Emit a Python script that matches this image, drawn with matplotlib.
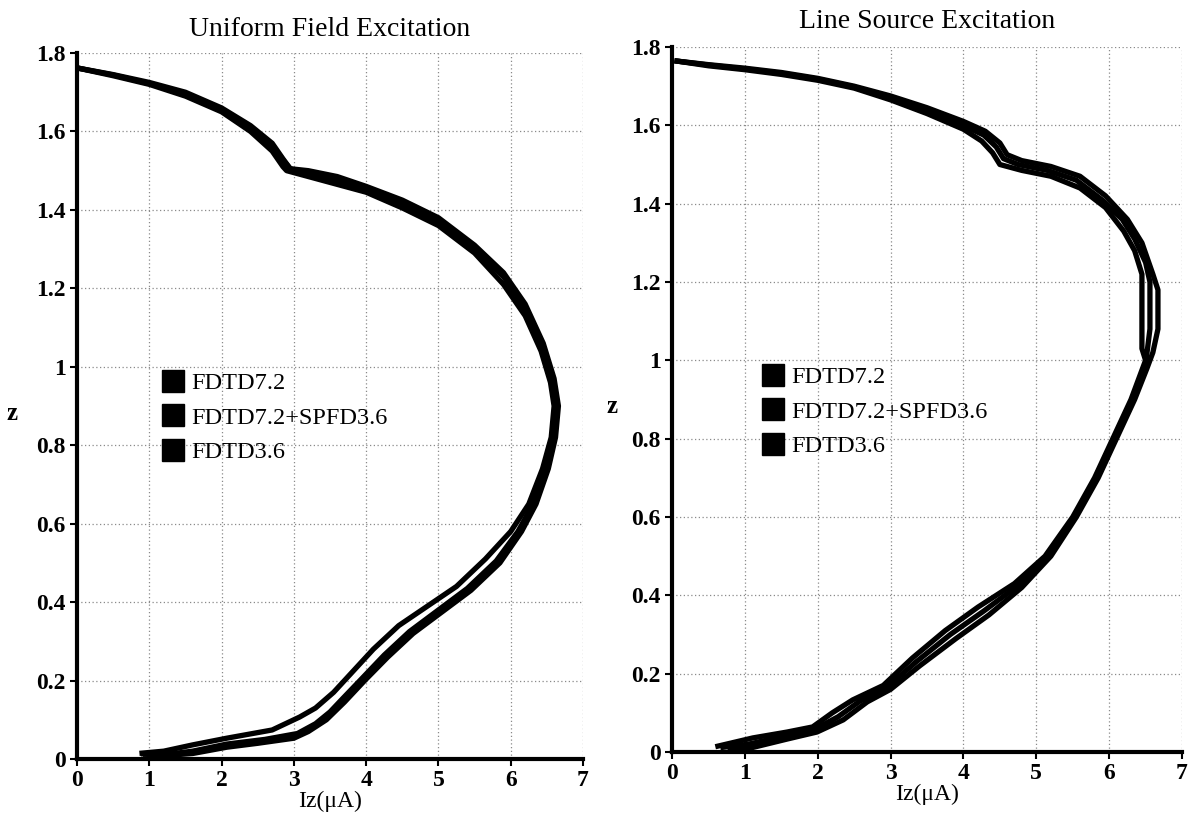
import matplotlib
matplotlib.use('Agg')
import matplotlib.pyplot as plt
from matplotlib.lines import Line2D

plt.rcParams['font.family'] = ['Liberation Serif', 'DejaVu Serif']

labels = ['FDTD7.2', 'FDTD7.2+SPFD3.6', 'FDTD3.6']
x_ticks = [0, 1, 2, 3, 4, 5, 6, 7]
y_ticks = [0, 0.2, 0.4, 0.6, 0.8, 1, 1.2, 1.4, 1.6, 1.8]
y_tick_labels = ['0', '0.2', '0.4', '0.6', '0.8', '1', '1.2', '1.4', '1.6', '1.8']

# Uniform field excitation
uf_iz_72 = [0.95, 1.3, 1.6, 2.07, 2.5, 3.0, 3.2, 3.45, 3.7, 3.98, 4.3, 4.65, 5.05, 5.45, 5.85, 6.15, 6.35,
            6.52, 6.62, 6.66, 6.6, 6.45, 6.2, 5.9, 5.5, 5.0, 4.5, 4.0, 3.6, 3.2, 2.95, 2.85, 2.7, 2.4, 2.0,
            1.5, 1.0, 0.5, 0.0]
uf_z_72 = [0.012, 0.01, 0.014, 0.03, 0.04, 0.053, 0.07, 0.1, 0.145, 0.2, 0.26, 0.32, 0.375, 0.43, 0.5, 0.58,
           0.65, 0.74, 0.82, 0.9, 0.97, 1.06, 1.16, 1.24, 1.31, 1.38, 1.425, 1.46, 1.485, 1.50, 1.505, 1.53,
           1.57, 1.615, 1.66, 1.70, 1.725, 1.745, 1.762]
uf_iz_sp = [0.92, 1.25, 1.6, 2.07, 2.6, 3.05, 3.3, 3.5, 3.68, 3.94, 4.25, 4.6, 5.0, 5.4, 5.8, 6.1, 6.31,
            6.49, 6.6, 6.64, 6.58, 6.44, 6.2, 5.9, 5.5, 5.0, 4.5, 4.0, 3.5, 3.1, 2.95, 2.86, 2.7, 2.4, 2.0,
            1.5, 1.0, 0.5, 0.0]
uf_z_sp = [0.013, 0.012, 0.02, 0.038, 0.05, 0.065, 0.09, 0.12, 0.155, 0.205, 0.265, 0.325, 0.38, 0.435,
           0.505, 0.58, 0.65, 0.74, 0.82, 0.9, 0.97, 1.055, 1.15, 1.23, 1.30, 1.37, 1.415, 1.452, 1.48,
           1.497, 1.505, 1.525, 1.565, 1.61, 1.655, 1.695, 1.722, 1.744, 1.762]
uf_iz_36 = [0.9, 1.2, 1.6, 2.07, 2.7, 3.08, 3.3, 3.55, 3.8, 4.1, 4.45, 4.85, 5.25, 5.65, 6.0, 6.25, 6.44,
            6.56, 6.6, 6.55, 6.42, 6.2, 5.9, 5.5, 5.0, 4.5, 4.0, 3.4, 3.0, 2.9, 2.85, 2.7, 2.4, 2.0, 1.5,
            1.0, 0.5, 0.0]
uf_z_36 = [0.015, 0.02, 0.036, 0.053, 0.074, 0.107, 0.13, 0.17, 0.22, 0.28, 0.34, 0.39, 0.44, 0.51, 0.58,
           0.65, 0.74, 0.82, 0.9, 0.96, 1.04, 1.13, 1.21, 1.29, 1.36, 1.405, 1.445, 1.475, 1.495, 1.50,
           1.51, 1.55, 1.60, 1.65, 1.69, 1.72, 1.742, 1.762]

# Line source excitation
ls_iz_72 = [0.8, 1.03, 1.58, 1.99, 2.35, 2.68, 3.0, 3.4, 3.9, 4.35, 4.8, 5.2, 5.55, 5.85, 6.1, 6.35, 6.52,
            6.6, 6.67, 6.67, 6.6, 6.45, 6.25, 5.95, 5.6, 5.2, 4.8, 4.6, 4.5, 4.3, 4.0, 3.5, 3.0, 2.5, 2.0,
            1.5, 1.0, 0.5, 0.07]
ls_z_72 = [0.01, 0.008, 0.033, 0.051, 0.082, 0.128, 0.16, 0.22, 0.29, 0.35, 0.42, 0.5, 0.6, 0.7, 0.8, 0.9,
           0.98, 1.02, 1.08, 1.18, 1.22, 1.3, 1.36, 1.42, 1.47, 1.495, 1.51, 1.525, 1.555, 1.585, 1.61,
           1.645, 1.675, 1.70, 1.72, 1.735, 1.746, 1.755, 1.764]
ls_iz_sp = [0.7, 1.05, 1.58, 1.96, 2.28, 2.58, 2.95, 3.35, 3.82, 4.28, 4.75, 5.16, 5.52, 5.82, 6.08, 6.32,
            6.5, 6.56, 6.56, 6.5, 6.35, 6.18, 5.9, 5.55, 5.15, 4.75, 4.55, 4.45, 4.28, 4.0, 3.5, 3.0, 2.5,
            2.0, 1.5, 1.0, 0.5, 0.07]
ls_z_sp = [0.012, 0.02, 0.042, 0.058, 0.09, 0.13, 0.165, 0.23, 0.3, 0.36, 0.425, 0.5, 0.6, 0.7, 0.8, 0.9,
           0.99, 1.08, 1.2, 1.25, 1.31, 1.36, 1.41, 1.46, 1.485, 1.5, 1.515, 1.545, 1.575, 1.60, 1.64, 1.67,
           1.698, 1.718, 1.733, 1.744, 1.754, 1.764]
ls_iz_36 = [0.63, 1.11, 1.58, 1.93, 2.2, 2.48, 2.9, 3.3, 3.75, 4.2, 4.7, 5.12, 5.5, 5.8, 6.05, 6.3, 6.5,
            6.45, 6.45, 6.35, 6.2, 5.95, 5.6, 5.2, 4.8, 4.5, 4.4, 4.25, 4.0, 3.5, 3.0, 2.5, 2.0, 1.5, 1.0,
            0.5, 0.07]
ls_z_36 = [0.015, 0.036, 0.051, 0.064, 0.1, 0.133, 0.17, 0.24, 0.31, 0.37, 0.43, 0.5, 0.6, 0.7, 0.8, 0.9,
           1.0, 1.03, 1.22, 1.28, 1.33, 1.39, 1.44, 1.47, 1.485, 1.50, 1.53, 1.56, 1.59, 1.63, 1.665, 1.695,
           1.715, 1.73, 1.742, 1.752, 1.764]

fig = plt.figure(figsize=(11.88, 8.15), dpi=100)
ax1 = fig.add_axes([77 / 1188, 56 / 815, 506 / 1188, 706 / 815])
ax2 = fig.add_axes([672 / 1188, 63 / 815, 510 / 1188, 705 / 815])

panels = [
    (ax1, 'Uniform Field Excitation',
     [(uf_iz_72, uf_z_72), (uf_iz_sp, uf_z_sp), (uf_iz_36, uf_z_36)],
     (163 / 1188, 1 - 372 / 815), (-0.128, 0.49), 12),
    (ax2, 'Line Source Excitation',
     [(ls_iz_72, ls_z_72), (ls_iz_sp, ls_z_sp), (ls_iz_36, ls_z_36)],
     (763 / 1188, 1 - 366 / 815), (-0.118, 0.49), 14),
]

for ax, title, series, leg_pos, zlab_pos, tpad in panels:
    for (iz, z), lab in zip(series, labels):
        ax.plot(iz, z, color='black', lw=3.8, solid_joinstyle='round', label=lab)
    ax.set_xlim(0, 7)
    ax.set_ylim(0, 1.8)
    ax.set_xticks(x_ticks)
    ax.set_yticks(y_ticks)
    ax.set_yticklabels(y_tick_labels)
    ax.grid(True, color='#8a8a8a', lw=0.9, linestyle=(0, (1, 2)))
    for s in ['top', 'right']:
        ax.spines[s].set_visible(False)
    for s in ['left', 'bottom']:
        ax.spines[s].set_linewidth(3)
    ax.tick_params(direction='out', length=5, width=1.5, labelsize=17, pad=3)
    for t in ax.get_xticklabels() + ax.get_yticklabels():
        t.set_fontweight('bold')
    ax.set_title(title, fontsize=20, pad=tpad)
    ax.set_xlabel('Iz(\u03bcA)', fontsize=17, labelpad=0)
    ax.set_ylabel('z', fontsize=18, fontweight='bold', rotation=0, va='center')
    ax.yaxis.set_label_coords(*zlab_pos)

    handles = [Line2D([], [], color='black', marker='s', markersize=16, linestyle='None') for _ in labels]
    ax.legend(handles, labels, loc='upper left', bbox_to_anchor=leg_pos, bbox_transform=fig.transFigure,
              frameon=False, fontsize=17.5, borderpad=0, borderaxespad=0, handlelength=0.8,
              handletextpad=0.35, labelspacing=0.52)

fig.savefig('out.png', dpi=100)
